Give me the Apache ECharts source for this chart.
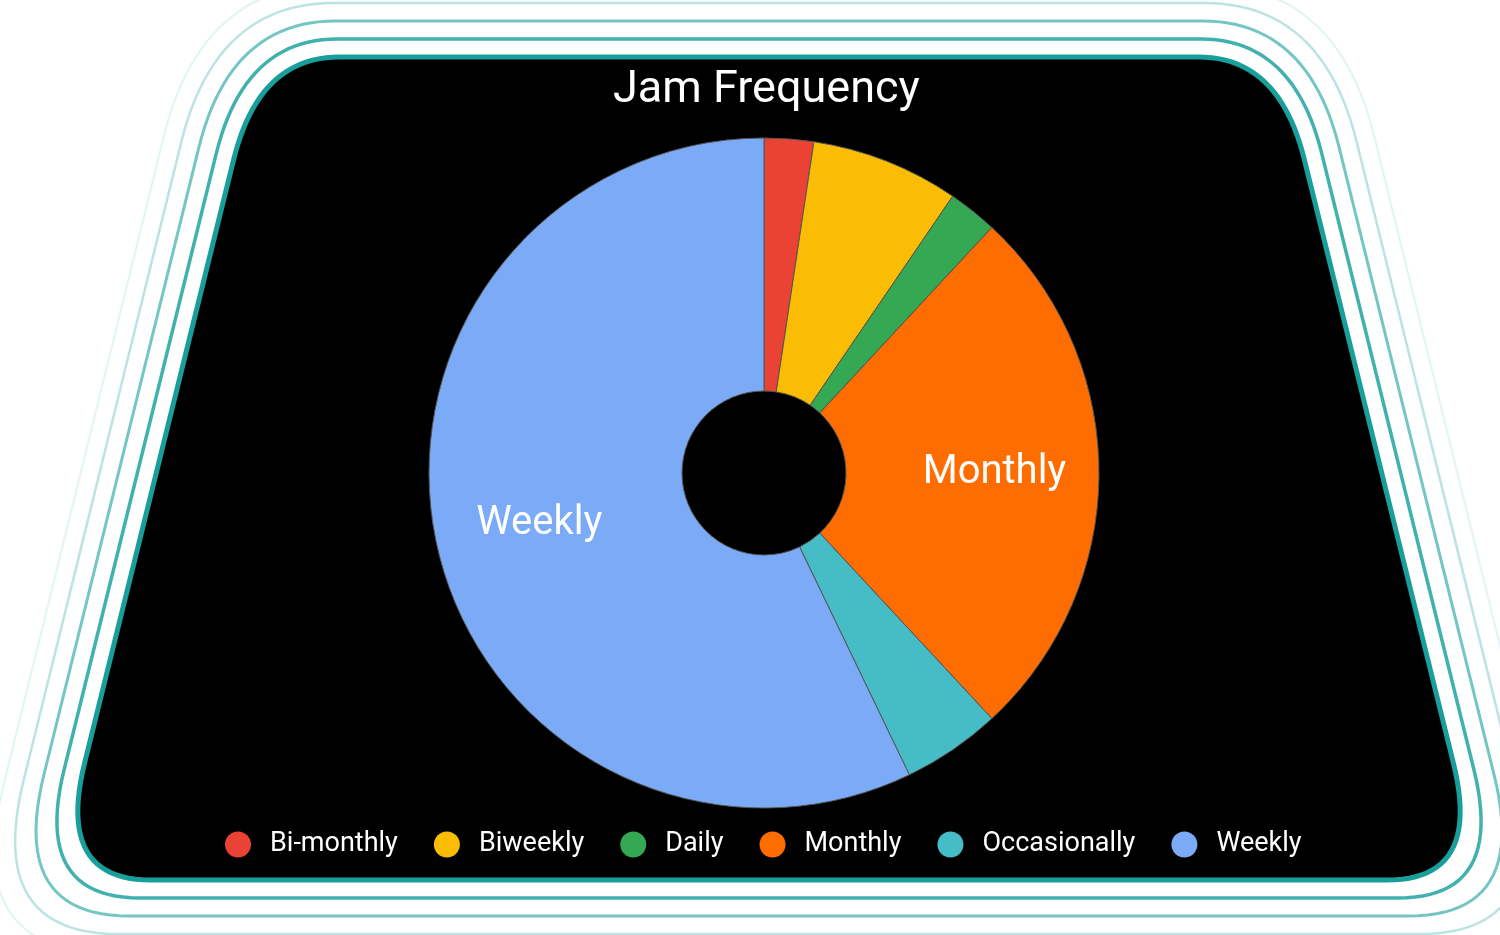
<!DOCTYPE html>
<html>
<head>
<meta charset="utf-8">
<script src="https://cdn.jsdelivr.net/npm/echarts@6/dist/echarts.min.js"></script>
<style>
html,body{margin:0;padding:0;background:#fff;}
#chart{width:1500px;height:935px;}
</style>
</head>
<body>
<div id="chart"></div>
<script>
// ---- data ----
const categories = ['Bi-monthly', 'Biweekly', 'Daily', 'Monthly', 'Occasionally', 'Weekly'];
const counts = [1, 3, 1, 11, 2, 24];
const colors = ['#ea4335', '#fbbc04', '#34a853', '#ff6d01', '#46bdc6', '#7baaf7'];
const labelledSlices = ['Monthly', 'Weekly'];
const titleText = 'Jam Frequency';

// ---- decorative frame (rounded trapezoid) ----
function quad(p0, c, p1, n) {
  const pts = [];
  for (let i = 0; i <= n; i++) {
    const t = i / n, a = (1 - t) * (1 - t), b = 2 * (1 - t) * t, d = t * t;
    pts.push([a * p0[0] + b * c[0] + d * p1[0], a * p0[1] + b * c[1] + d * p1[1]]);
  }
  return pts;
}
function trapPoints(d) {
  const cx = 769, slope = 0.247;
  const top = 57 - d, bot = 880 + d, h = d * 1.05;
  const hwT = 510 + h - slope * d, hwB = 510 + h + slope * (823 + d);
  const TL = [cx - hwT, top], TR = [cx + hwT, top], BR = [cx + hwB, bot], BL = [cx - hwB, bot];
  const norm = (a, b) => { const dx = b[0] - a[0], dy = b[1] - a[1], l = Math.hypot(dx, dy); return [dx / l, dy / l]; };
  const vR = norm(TR, BR), vL = norm(TL, BL);
  const tT = 80 + d * 0.7, sT = 105 + d * 0.7, tB = 95 + d * 0.7, sB = 120 + d * 0.7;
  const add = (p, v, s) => [p[0] + v[0] * s, p[1] + v[1] * s];
  let pts = [];
  pts = pts.concat(quad(add(TL, vL, sT), TL, [TL[0] + tT, TL[1]], 24));
  pts = pts.concat(quad([TR[0] - tT, TR[1]], TR, add(TR, vR, sT), 24));
  pts = pts.concat(quad(add(BR, vR, -sB), BR, [BR[0] - tB, BR[1]], 24));
  pts = pts.concat(quad([BL[0] + tB, BL[1]], BL, add(BL, vL, -sB), 24));
  return pts;
}
const teal = '#1fa3a0';
const frameLines = [
  { d: 72, op: 0.13, w: 2 },
  { d: 54, op: 0.3, w: 2.5 },
  { d: 36, op: 0.62, w: 3 },
  { d: 18, op: 0.85, w: 3.5 }
];
const graphics = frameLines.map(f => ({
  type: 'polygon', silent: true, z: -5,
  shape: { points: trapPoints(f.d) },
  style: { fill: 'none', stroke: teal, lineWidth: f.w, opacity: f.op }
}));
graphics.push({
  type: 'polygon', silent: true, z: -4,
  shape: { points: trapPoints(0) },
  style: { fill: '#000', stroke: '#189e9b', lineWidth: 5 }
});

const pieData = categories.map((c, i) => ({ name: c, value: counts[i], itemStyle: { color: colors[i] } }));
const labelData = categories.map((c, i) => ({
  name: c, value: counts[i],
  itemStyle: { color: 'rgba(0,0,0,0)', borderWidth: 0 },
  label: { show: labelledSlices.indexOf(c) >= 0 }
}));

const chart = echarts.init(document.getElementById('chart'));
chart.setOption({
  backgroundColor: '#ffffff',
  animation: false,
  graphic: { elements: graphics },
  title: {
    text: titleText,
    left: 608,
    top: 63,
    textStyle: { color: '#ffffff', fontSize: 45, fontWeight: 'normal', fontFamily: 'Roboto' }
  },
  legend: {
    data: categories,
    left: 225,
    top: 831,
    padding: 0,
    icon: 'circle',
    itemWidth: 26,
    itemHeight: 26,
    itemGap: 36,
    itemStyle: { borderWidth: 0 },
    textStyle: { color: '#ffffff', fontSize: 27, fontFamily: 'Roboto', padding: [0, 0, 0, 14] }
  },
  series: [
    {
      type: 'pie',
      center: [764, 473],
      radius: [82, 335],
      startAngle: 90,
      clockwise: true,
      avoidLabelOverlap: false,
      label: { show: false },
      labelLine: { show: false },
      emphasis: { disabled: true },
      itemStyle: { borderColor: '#555555', borderWidth: 1 },
      data: pieData
    },
    {
      type: 'pie',
      silent: true,
      center: [764, 473],
      radius: [120, 335],
      startAngle: 90,
      clockwise: true,
      avoidLabelOverlap: false,
      labelLine: { show: false },
      emphasis: { disabled: true },
      label: {
        position: 'inside',
        formatter: '{b}',
        color: '#ffffff',
        fontSize: 40,
        fontFamily: 'Roboto'
      },
      data: labelData
    }
  ]
});
</script>
</body>
</html>
